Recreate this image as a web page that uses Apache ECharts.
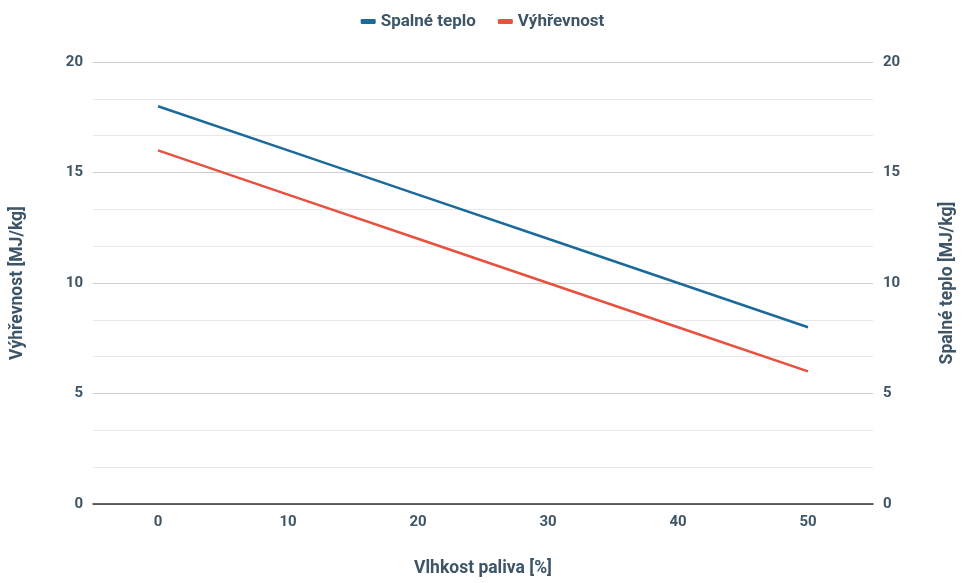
<!DOCTYPE html>
<html>
<head>
<meta charset="utf-8">
<script src="https://cdn.jsdelivr.net/npm/echarts@6/dist/echarts.min.js"></script>
<style>
  html, body { margin: 0; padding: 0; background: #ffffff; overflow: hidden; }
  #chart { width: 965px; height: 583px; }
</style>
</head>
<body>
<div id="chart"></div>
<script>
// Moisture content of the fuel [%]
const moisture = [0, 10, 20, 30, 40, 50];
// Gross calorific value [MJ/kg]
const grossHeat = [18, 16, 14, 12, 10, 8];
// Net calorific value [MJ/kg]
const netHeat = [16, 14, 12, 10, 8, 6];
const xTickLabels = ['0', '10', '20', '30', '40', '50'];

const textColor = '#3d5566';
const font = 'Roboto, "Noto Sans", sans-serif';

const chart = echarts.init(document.getElementById('chart'));

const yAxisBase = {
  type: 'value',
  min: 0,
  max: 20,
  interval: 5,
  nameLocation: 'middle',
  nameRotate: 90,
  nameTextStyle: { color: textColor, fontFamily: font, fontWeight: 'bold', fontSize: 17.5 },
  axisLine: { show: false },
  axisTick: { show: false },
  axisLabel: { color: textColor, fontFamily: font, fontWeight: 'bold', fontSize: 15, margin: 10 }
};

chart.setOption({
  backgroundColor: '#ffffff',
  animation: false,
  legend: {
    top: 8,
    left: 'center',
    itemWidth: 15,
    itemHeight: 5,
    itemGap: 22,
    icon: 'roundRect',
    textStyle: { color: textColor, fontFamily: font, fontWeight: 'bold', fontSize: 17 },
    data: ['Spalné teplo', 'Výhřevnost']
  },
  grid: { left: 93, right: 82, top: 62, bottom: 75, containLabel: false },
  xAxis: {
    type: 'value',
    min: -5,
    max: 55,
    interval: 5,
    name: 'Vlhkost paliva [%]',
    nameLocation: 'middle',
    nameGap: 56,
    nameTextStyle: { color: textColor, fontFamily: font, fontWeight: 'bold', fontSize: 17.5 },
    axisLine: { show: true, lineStyle: { color: '#333333', width: 1.5 } },
    axisTick: { show: false },
    splitLine: { show: false },
    axisLabel: {
      color: textColor, fontFamily: font, fontWeight: 'bold', fontSize: 15, margin: 11,
      formatter: function (v) {
        const i = moisture.indexOf(v);
        return i >= 0 ? xTickLabels[i] : '';
      }
    }
  },
  yAxis: [
    Object.assign({}, yAxisBase, {
      name: 'Výhřevnost [MJ/kg]',
      nameGap: 66,
      position: 'left',
      splitLine: { show: true, lineStyle: { color: '#cccccc', width: 1 } },
      minorTick: { show: false, splitNumber: 3 },
      minorSplitLine: { show: true, lineStyle: { color: '#e8e8e8', width: 1 } }
    }),
    Object.assign({}, yAxisBase, {
      name: 'Spalné teplo [MJ/kg]',
      nameGap: 66,
      position: 'right',
      splitLine: { show: false }
    })
  ],
  series: [
    {
      name: 'Spalné teplo',
      type: 'line',
      yAxisIndex: 1,
      showSymbol: false,
      symbol: 'none',
      color: '#1a6a9c',
      lineStyle: { width: 2.5, color: '#1a6a9c' },
      data: moisture.map((m, i) => [m, grossHeat[i]])
    },
    {
      name: 'Výhřevnost',
      type: 'line',
      yAxisIndex: 0,
      showSymbol: false,
      symbol: 'none',
      color: '#e8513f',
      lineStyle: { width: 2.5, color: '#e8513f' },
      data: moisture.map((m, i) => [m, netHeat[i]])
    }
  ]
});
</script>
</body>
</html>
